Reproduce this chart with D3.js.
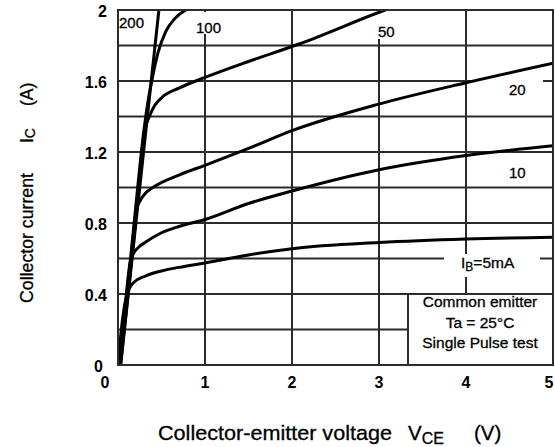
<!DOCTYPE html>
<html>
<head>
<meta charset="utf-8">
<script src="https://cdn.jsdelivr.net/npm/d3@7"></script>
<style>
  body { margin: 0; background: #fff; }
  svg { display: block; }
  text { font-family: "Liberation Sans", Arial, Helvetica, sans-serif; fill: #000; }
  text.heavy { stroke: #000; stroke-width: 0.3px; }
</style>
</head>
<body>
<svg id="chart" width="555" height="447"></svg>
<script>
// Axis ticks and grid
const xTickValues = [0, 1, 2, 3, 4, 5];
const yTickValues = [0, 0.4, 0.8, 1.2, 1.6, 2];
const xGridValues = [1, 2, 3, 4];
const yGridValues = [0.2, 0.4, 0.6, 0.8, 1.0, 1.2, 1.4, 1.6, 1.8];

// Output characteristics: [VCE (V), IC (A)] for each base current IB
const ib5 = [[0.0,0],[0.05,0.25],[0.085,0.36],[0.12,0.42],[0.18,0.465],[0.31,0.50],[0.5,0.53],[0.7,0.55],[1.0,0.575],[1.5,0.62],[2,0.655],[3,0.69],[4,0.71],[5,0.72]];
const ib10 = [[0.01,0],[0.085,0.35],[0.14,0.58],[0.18,0.63],[0.24,0.665],[0.31,0.69],[0.5,0.745],[0.7,0.78],[1.0,0.82],[1.5,0.91],[2,0.98],[3,1.10],[4,1.18],[5,1.235]];
const ib20 = [[0.02,0],[0.13,0.5],[0.21,0.87],[0.26,0.93],[0.32,0.97],[0.4,1.0],[0.7,1.07],[1.0,1.125],[1.5,1.22],[2,1.32],[3,1.47],[4,1.59],[5,1.70]];
const ib50 = [[0.03,0],[0.18,0.7],[0.31,1.33],[0.36,1.40],[0.42,1.46],[0.51,1.51],[0.7,1.56],[1.0,1.62],[1.5,1.71],[2.09,1.81],[3.07,2.0],[3.3,2.04]];
const ib100 = [[0.02,0],[0.165,0.7],[0.30,1.33],[0.35,1.50],[0.40,1.63],[0.46,1.76],[0.55,1.88],[0.65,1.95],[0.78,2.0],[0.9,2.02]];
const ib200 = [[0.03,0],[0.25,1.0],[0.47,2.0],[0.52,2.22]];

const curves = [ib5, ib10, ib20, ib50, ib100, ib200];

const svg = d3.select("#chart");
const plotLeft = 118, plotRight = 553, plotTop = 10, plotBottom = 365;

const x = d3.scaleLinear().domain([0, 5]).range([plotLeft, plotRight]);
const y = d3.scaleLinear().domain([0, 2]).range([plotBottom, plotTop]);

const gridColor = "#2b2b2b";

// Grid lines
svg.append("g").selectAll("line").data(xGridValues).join("line")
  .attr("x1", d => x(d)).attr("x2", d => x(d))
  .attr("y1", plotTop).attr("y2", plotBottom)
  .attr("stroke", gridColor).attr("stroke-width", 2);

svg.append("g").selectAll("line").data(yGridValues).join("line")
  .attr("x1", plotLeft).attr("x2", plotRight)
  .attr("y1", d => y(d)).attr("y2", d => y(d))
  .attr("stroke", gridColor).attr("stroke-width", 2);

// White patches behind the curve labels
const patches = [
  [194, 12, 31, 22],
  [375, 12, 24, 27],
  [471, 76, 72, 24],
  [444, 254, 96, 23]
];
svg.append("g").selectAll("rect").data(patches).join("rect")
  .attr("x", d => d[0]).attr("y", d => d[1])
  .attr("width", d => d[2]).attr("height", d => d[3])
  .attr("fill", "#fff");

// Curves
svg.append("clipPath").attr("id", "plotClip")
  .append("rect").attr("x", plotLeft).attr("y", plotTop)
  .attr("width", plotRight - plotLeft).attr("height", plotBottom - plotTop);

const line = d3.line()
  .x(d => x(d[0])).y(d => y(d[1]))
  .curve(d3.curveMonotoneX);

svg.append("g").attr("clip-path", "url(#plotClip)")
  .selectAll("path").data(curves).join("path")
  .attr("d", line)
  .attr("fill", "none")
  .attr("stroke", "#000")
  .attr("stroke-width", 3)
  .attr("stroke-linejoin", "round");

// Plot frame
svg.append("rect")
  .attr("x", plotLeft).attr("y", plotTop)
  .attr("width", plotRight - plotLeft).attr("height", plotBottom - plotTop)
  .attr("fill", "none").attr("stroke", gridColor).attr("stroke-width", 2);

// Condition box
const box = svg.append("g");
box.append("rect")
  .attr("x", 408).attr("y", y(0.4))
  .attr("width", plotRight - 408).attr("height", plotBottom - y(0.4))
  .attr("fill", "#fff").attr("stroke", gridColor).attr("stroke-width", 2);
const boxLines = ["Common emitter", "Ta = 25\u00B0C", "Single Pulse test"];
box.selectAll("text").data(boxLines).join("text")
  .attr("class", "heavy")
  .attr("x", 480).attr("y", (d, i) => 307 + i * 20.5)
  .attr("text-anchor", "middle")
  .attr("font-size", 15.5)
  .text(d => d);

// Curve labels
const curveLabel = (tx, ty, t) => svg.append("text")
  .attr("class", "heavy")
  .attr("x", tx).attr("y", ty).attr("font-size", 15).text(t);
curveLabel(119, 28, "200");
curveLabel(196, 33, "100");
curveLabel(378, 37, "50");
curveLabel(509, 95, "20");
curveLabel(509, 178, "10");
const ibLabel = svg.append("text").attr("class", "heavy")
  .attr("x", 461).attr("y", 268).attr("font-size", 15.5);
ibLabel.append("tspan").text("I");
ibLabel.append("tspan").attr("font-size", 12).attr("dy", 3).text("B");
ibLabel.append("tspan").attr("dy", -3).text("=5mA");

// Tick labels
svg.append("g").selectAll("text").data(yTickValues).join("text")
  .attr("x", d => d === 0 ? 103 : 107)
  .attr("y", d => y(d) + 7)
  .attr("text-anchor", "end")
  .attr("font-size", 16).attr("font-weight", "bold")
  .text(d => d3.format("")(d));

svg.append("g").selectAll("text").data(xTickValues).join("text")
  .attr("x", d => d === 0 ? x(d) - 13 : (d === 5 ? x(d) - 4 : x(d)))
  .attr("y", 388)
  .attr("text-anchor", "middle")
  .attr("font-size", 16).attr("font-weight", "bold")
  .text(d => d);

// Axis titles
const xt = svg.append("text").attr("class", "heavy").attr("y", 440).attr("font-size", 20.5);
xt.append("tspan").attr("x", 158).attr("textLength", 234).attr("lengthAdjust", "spacingAndGlyphs")
  .text("Collector-emitter voltage");
xt.append("tspan").attr("x", 408).text("V");
xt.append("tspan").attr("font-size", 16).attr("dy", 4).text("CE");
xt.append("tspan").attr("x", 474).attr("dy", -4).text("(V)");

const yt = svg.append("text").attr("class", "heavy")
  .attr("transform", "translate(33,0) rotate(-90)")
  .attr("font-size", 17.5);
yt.append("tspan").attr("x", -303).attr("textLength", 130).attr("lengthAdjust", "spacingAndGlyphs")
  .text("Collector current");
yt.append("tspan").attr("x", -143).text("I");
yt.append("tspan").attr("font-size", 14).attr("dy", 2).text("C");
yt.append("tspan").attr("x", -106).attr("dy", -2).text("(A)");
</script>
</body>
</html>
